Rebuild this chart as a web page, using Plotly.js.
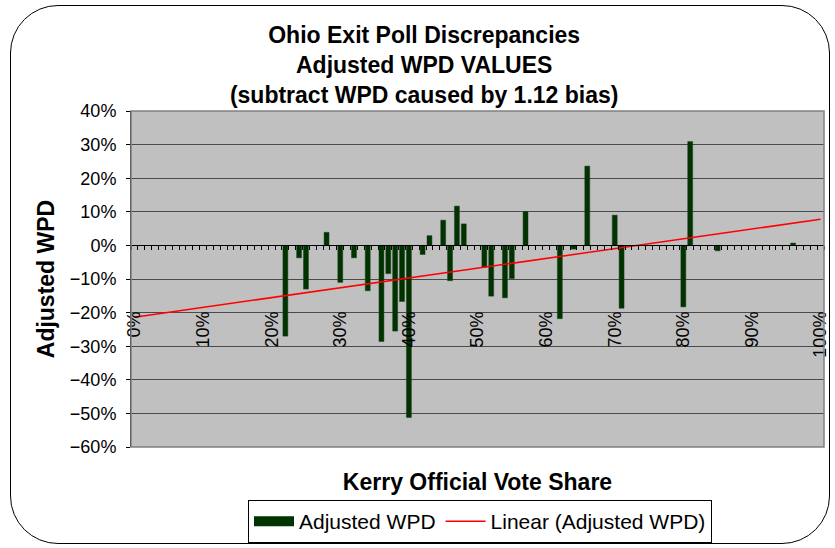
<!DOCTYPE html>
<html>
<head>
<meta charset="utf-8">
<script src="https://cdn.plot.ly/plotly-3.0.1.min.js"></script>
<style>
  html, body { margin: 0; padding: 0; background: #ffffff; overflow: hidden; }
  #frame { position: absolute; left: 10px; top: 5px; width: 820px; height: 539px;
           border: 1px solid #000; border-radius: 48px; box-sizing: border-box; }
  #chart { position: absolute; left: 0; top: 0; width: 835px; height: 548px; }
</style>
</head>
<body>
<div id="frame"></div>
<div id="chart"></div>
<script>
// Kerry official vote share (category, %) and adjusted WPD (%)
const kerryShare = [22, 24, 25, 28, 30, 32, 34, 36, 37, 38, 39, 40, 42, 43, 45, 46, 47, 48,
                    51, 52, 54, 55, 57, 62, 64, 66, 70, 71, 80, 81, 85, 96];
const adjustedWPD = [-27.0, -3.7, -13.0, 3.9, -11.0, -3.7, -13.5, -28.6, -8.4, -25.5, -16.7, -51.2,
                     -2.7, 2.9, 7.5, -10.5, 11.7, 6.4, -6.5, -15.1, -15.6, -9.9, 10.1, -21.8,
                     -1.1, 23.6, 9.0, -18.7, -18.3, 30.9, -1.6, 0.7];
const xTickVals = [0, 10, 20, 30, 40, 50, 60, 70, 80, 90, 100];
const xTickText = ['0%', '10%', '20%', '30%', '40%', '50%', '60%', '70%', '80%', '90%', '100%'];
const trendX = [0, 100];

// Linear trend line (least squares) like Excel's "Linear (Adjusted WPD)"
const n = kerryShare.length;
const mx = kerryShare.reduce((a, b) => a + b, 0) / n;
const my = adjustedWPD.reduce((a, b) => a + b, 0) / n;
let sxy = 0, sxx = 0;
for (let i = 0; i < n; i++) {
  sxy += (kerryShare[i] - mx) * (adjustedWPD[i] - my);
  sxx += (kerryShare[i] - mx) * (kerryShare[i] - mx);
}
const slope = sxy / sxx;
const intercept = my - slope * mx;
const trendY = trendX.map(x => intercept + slope * x);

const FONT = 'Liberation Sans, Arial, sans-serif';
const BAR_COLOR = '#003300';

const traces = [
  {
    type: 'bar', name: 'Adjusted WPD', showlegend: false, legendgroup: 'wpd',
    x: kerryShare, y: adjustedWPD, width: 0.72,
    marker: { color: BAR_COLOR, line: { color: '#1f3f1f', width: 0.5 } }
  },
  {
    // legend key only (wide filled swatch like the original)
    type: 'scatter', mode: 'lines', name: 'Adjusted WPD', legendgroup: 'wpd',
    x: [null], y: [null], hoverinfo: 'skip',
    line: { color: BAR_COLOR, width: 12 }
  },
  {
    type: 'scatter', mode: 'lines', name: 'Linear (Adjusted WPD)',
    x: trendX, y: trendY,
    line: { color: '#ff0000', width: 1.5 }
  }
];

const layout = {
  width: 835, height: 548,
  margin: { l: 131, r: 11, t: 111, b: 101, autoexpand: false },
  paper_bgcolor: 'rgba(0,0,0,0)',
  plot_bgcolor: '#c0c0c0',
  font: { family: FONT, color: '#000' },
  showlegend: true,
  barmode: 'overlay',
  title: {
    text: 'Ohio Exit Poll Discrepancies<br>Adjusted WPD VALUES<br>(subtract WPD caused by 1.12 bias)',
    font: { family: FONT, size: 23, weight: 'bold', color: '#000' },
    xref: 'container', x: 0.508, xanchor: 'center',
    yref: 'container', y: 1 - 43 / 548, yanchor: 'top'
  },
  xaxis: {
    range: [-0.5, 100.5], anchor: 'free', position: 0.6,
    showline: true, linecolor: '#000', linewidth: 1,
    showgrid: false, zeroline: false,
    tickmode: 'array', tickvals: xTickVals, ticktext: xTickText,
    ticks: '', tickangle: -90,
    ticklabelstandoff: 58,
    tickfont: { family: FONT, size: 18, color: '#000' },
    minor: { tickmode: 'linear', tick0: 0.5, dtick: 1, ticks: 'outside',
             ticklen: 4, tickcolor: '#000', tickwidth: 1, showgrid: false },
    title: { text: 'Kerry Official Vote Share', standoff: 117,
             font: { family: FONT, size: 23, weight: 'bold', color: '#000' } }
  },
  yaxis: {
    range: [-60, 40], dtick: 10, tick0: 0, ticksuffix: '%',
    showline: true, linecolor: '#000', linewidth: 1,
    showgrid: true, gridcolor: '#4a4a4a', gridwidth: 1,
    zeroline: false,
    ticks: 'outside', ticklen: 4, tickcolor: '#000',
    ticklabelstandoff: 6,
    tickfont: { family: FONT, size: 18, color: '#000' },
    title: { text: 'Adjusted WPD', standoff: 8,
             font: { family: FONT, size: 23, weight: 'bold', color: '#000' } }
  },
  legend: {
    orientation: 'h', x: 480 / 835, xanchor: 'center', xref: 'container',
    y: 1 - 500 / 548, yanchor: 'top', yref: 'container',
    bgcolor: '#fff', bordercolor: '#000', borderwidth: 1,
    font: { family: FONT, size: 21, color: '#000' },
    itemwidth: 40, traceorder: 'normal'
  },
  shapes: [
    { type: 'rect', xref: 'paper', yref: 'paper', x0: 0, x1: 1, y0: 0, y1: 1,
      line: { color: '#808080', width: 1.5 }, fillcolor: 'rgba(0,0,0,0)', layer: 'above' }
  ]
};

Plotly.newPlot('chart', traces, layout, { displayModeBar: false, staticPlot: true });
</script>
</body>
</html>
